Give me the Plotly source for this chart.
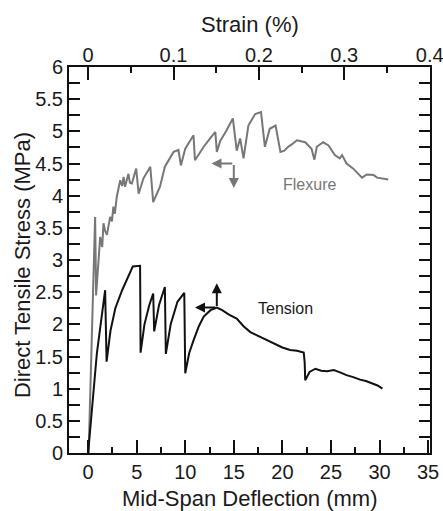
import plotly.graph_objects as go

# Tension curve (black)
tension_x = [0, 0.9, 1.75, 1.9, 2.3, 2.8, 3.5, 4.2, 4.6, 5.35, 5.4, 5.8, 6.3, 6.7, 6.8, 7.3, 7.9, 8.0, 8.5, 9.2, 9.9,
             10.0, 10.4, 10.85, 11.4, 11.9, 12.6, 13.25, 13.8, 14.5, 15.3, 16.0, 16.7, 17.5, 18.3, 19.1, 20.0, 20.8,
             21.5, 22.2, 22.3, 22.35, 22.8, 23.4, 24.0, 24.6, 25.3, 26.0, 26.6, 27.3, 28.0, 28.6, 29.2, 29.8, 30.3]
tension_y = [0, 1.55, 2.53, 1.42, 1.9, 2.25, 2.53, 2.78, 2.9, 2.91, 1.56, 2.0, 2.3, 2.48, 1.89, 2.3, 2.58, 1.54, 2.0,
             2.35, 2.49, 1.24, 1.55, 1.75, 1.97, 2.12, 2.22, 2.26, 2.22, 2.15, 2.09, 1.97, 1.88, 1.82, 1.76, 1.70,
             1.64, 1.6, 1.59, 1.56, 1.4, 1.13, 1.26, 1.31, 1.28, 1.27, 1.29, 1.25, 1.21, 1.18, 1.14, 1.12, 1.09,
             1.05, 1.0]

# Flexure curve (grey)
flexure_x = [0.05, 0.72, 0.82, 1.06, 1.24, 1.45, 1.58, 1.75, 1.93, 2.27, 2.45, 2.6, 2.75, 2.95, 3.3, 3.5, 3.65, 3.8,
             4.15, 4.3, 4.5, 4.95, 5.2, 5.7, 6.0, 6.4, 6.7, 7.0, 7.4, 7.9, 8.3, 8.8, 9.3, 9.55, 10.0, 10.85, 11.0,
             11.4, 11.9, 12.5, 13.1, 13.25, 13.6, 14.2, 14.9, 15.3, 15.65, 16.0, 16.5, 17.2, 17.8, 18.2, 18.7, 19.3,
             19.8, 20.2, 20.6, 21.0, 21.5, 22.35, 23.0, 23.3, 23.55, 24.2, 24.75, 25.4, 25.9, 26.15, 26.6, 27.3,
             27.8, 28.2, 28.7, 29.4, 29.75, 30.3, 30.9]
flexure_y = [0, 3.67, 2.45, 2.95, 3.36, 3.2, 3.57, 3.45, 3.39, 3.67, 3.6, 3.83, 3.72, 3.98, 4.24, 4.15, 4.29, 4.14,
             4.34, 4.2, 4.19, 4.42, 4.03, 4.27, 4.35, 4.45, 3.9, 4.0, 4.14, 4.45, 4.55, 4.68, 4.71, 4.47, 4.73, 4.94,
             4.55, 4.65, 4.76, 4.88, 4.99, 4.68, 4.85, 5.0, 5.2, 4.7, 4.89, 4.58, 5.09, 5.27, 5.3, 4.76, 5.04, 5.09,
             4.68, 4.7, 4.76, 4.8, 4.86, 4.83, 4.73, 4.56, 4.76, 4.83, 4.78, 4.63, 4.58, 4.63, 4.5, 4.42, 4.35,
             4.28, 4.33, 4.32, 4.28, 4.27, 4.25]

x_ticks = [0, 5, 10, 15, 20, 25, 30, 35]
strain_ticks = [0, 0.1, 0.2, 0.3, 0.4]
strain_labels = ["0", "0.1", "0.2", "0.3", "0.4"]
y_ticks = [0, 0.5, 1, 1.5, 2, 2.5, 3, 3.5, 4, 4.5, 5, 5.5, 6]

GREY = "#777777"
BLACK = "#111111"
TXT = "#1a1a1a"
FONT = "Liberation Sans, Arial, sans-serif"

fig = go.Figure()
fig.add_trace(go.Scatter(x=flexure_x, y=flexure_y, mode="lines",
                         line=dict(color=GREY, width=2), showlegend=False))
fig.add_trace(go.Scatter(x=tension_x, y=tension_y, mode="lines",
                         line=dict(color=BLACK, width=2), showlegend=False))
# invisible trace for top strain axis
fig.add_trace(go.Scatter(x=[0, 0.4], y=[0, 0], xaxis="x2", mode="lines",
                         line=dict(width=0), opacity=0, showlegend=False, hoverinfo="skip"))

annos = []
# Flexure arrows
annos.append(dict(x=12.7, y=4.5, ax=15.0, ay=4.5, xref="x", yref="y", axref="x", ayref="y",
                  showarrow=True, arrowhead=2, arrowsize=1, arrowwidth=2, arrowcolor=GREY, text=""))
annos.append(dict(x=15.0, y=4.12, ax=15.0, ay=4.5, xref="x", yref="y", axref="x", ayref="y",
                  showarrow=True, arrowhead=2, arrowsize=1, arrowwidth=2, arrowcolor=GREY, text=""))
# Tension arrows
annos.append(dict(x=11.0, y=2.26, ax=13.25, ay=2.26, xref="x", yref="y", axref="x", ayref="y",
                  showarrow=True, arrowhead=2, arrowsize=1, arrowwidth=2, arrowcolor=BLACK, text=""))
annos.append(dict(x=13.25, y=2.64, ax=13.25, ay=2.26, xref="x", yref="y", axref="x", ayref="y",
                  showarrow=True, arrowhead=2, arrowsize=1, arrowwidth=2, arrowcolor=BLACK, text=""))
annos.append(dict(x=20.3, y=2.25, text="Tension", showarrow=False, xref="x", yref="y",
                  font=dict(family=FONT, size=16, color=TXT)))
annos.append(dict(x=22.8, y=4.18, text="Flexure", showarrow=False, xref="x", yref="y",
                  font=dict(family=FONT, size=16, color=GREY)))
# Axis titles
annos.append(dict(x=0.5, y=-0.1166, xref="paper", yref="paper", text="Mid-Span Deflection (mm)",
                  showarrow=False, xanchor="center", yanchor="middle", font=dict(family=FONT, size=22, color=TXT)))
annos.append(dict(x=0.5, y=1.109, xref="paper", yref="paper", text="Strain (%)",
                  showarrow=False, xanchor="center", yanchor="middle", font=dict(family=FONT, size=22, color=TXT)))
annos.append(dict(x=-0.130, y=0.487, xref="paper", yref="paper", text="Direct Tensile Stress (MPa)",
                  showarrow=False, xanchor="center", yanchor="middle", textangle=-90,
                  font=dict(family=FONT, size=22, color=TXT)))

fig.update_layout(
    width=443, height=511,
    margin=dict(l=69, r=13, t=67, b=58, autoexpand=False),
    paper_bgcolor="white", plot_bgcolor="white",
    font=dict(family=FONT, size=20, color=TXT),
    annotations=annos,
    xaxis=dict(range=[-1.97, 35.2], tickvals=x_ticks, ticks="inside", ticklen=13, tickwidth=2,
               tickcolor=BLACK, showline=True, linewidth=2, linecolor=BLACK, mirror=True,
               showgrid=False, zeroline=False, automargin=False, ticklabeloverflow="allow",
               minor=dict(dtick=2.5, tick0=0, ticks="inside", ticklen=6, tickwidth=2, tickcolor=BLACK),
               tickfont=dict(size=20)),
    xaxis2=dict(range=[-0.0224, 0.4004], overlaying="x", side="top", tickvals=strain_ticks,
                ticktext=strain_labels, anchor="y", ticklabeloverflow="allow",
                ticks="inside", ticklen=13, tickwidth=2, tickcolor=BLACK, showline=False,
                showgrid=False, zeroline=False, automargin=False,
                minor=dict(dtick=0.05, tick0=0, ticks="inside", ticklen=6, tickwidth=2, tickcolor=BLACK),
                tickfont=dict(size=20)),
    yaxis=dict(range=[0, 6], tickvals=y_ticks, ticktext=[f"{v:g}" for v in y_ticks],
               ticks="inside", ticklen=11, tickwidth=2, tickcolor=BLACK,
               showline=True, linewidth=2, linecolor=BLACK, mirror="allticks",
               showgrid=False, zeroline=False, automargin=False,
               minor=dict(dtick=0.25, tick0=0, ticks="inside", ticklen=11, tickwidth=2, tickcolor=BLACK),
               tickfont=dict(size=20)),
)

fig.write_html("out.html", config={"displayModeBar": False},
               post_script="document.body.style.margin='0';document.body.style.padding='0';")
